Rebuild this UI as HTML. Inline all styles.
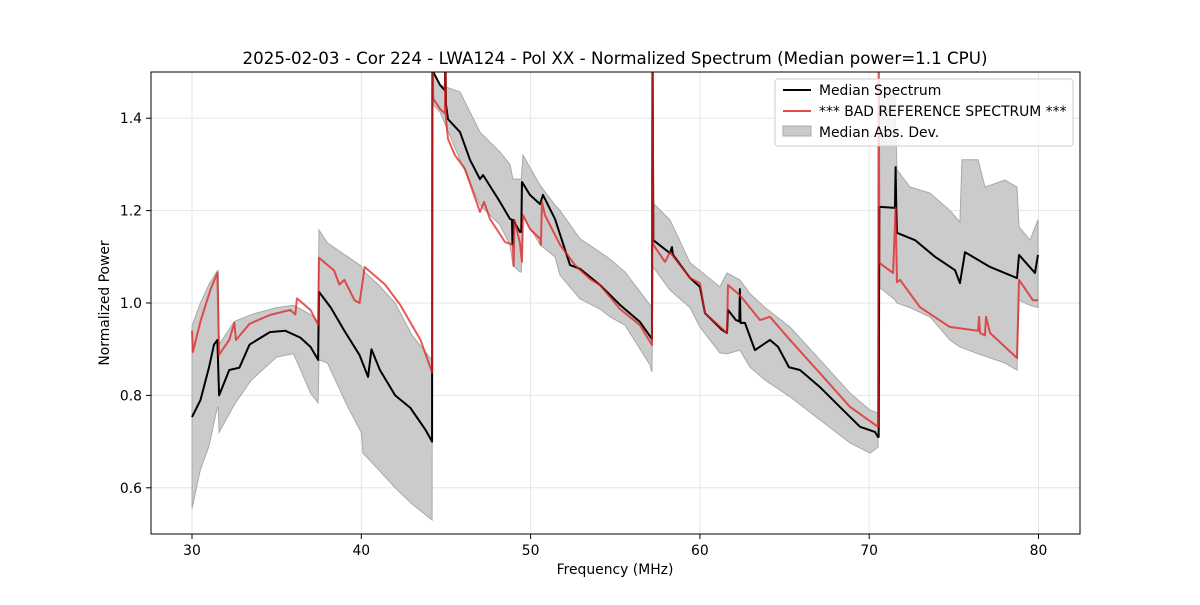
<!DOCTYPE html>
<html><head><meta charset="utf-8"><style>
body{margin:0;background:#fff;}
svg text{font-family:"DejaVu Sans","Liberation Sans",sans-serif;fill:#000;}
</style></head><body>
<svg id="chart" width="1200" height="600" viewBox="0 0 1200 600">
<defs><clipPath id="clip"><rect x="151" y="72" width="929" height="462"/></clipPath></defs>
<rect x="0" y="0" width="1200" height="600" fill="#fff"/>
<text x="615" y="64" font-size="16.7" text-anchor="middle">2025-02-03 - Cor 224 - LWA124 - Pol XX - Normalized Spectrum (Median power=1.1 CPU)</text>
<g id="grid"></g>
<g id="ticks"></g>
<g clip-path="url(#clip)" id="plot"></g>
<rect x="151" y="72" width="929" height="462" fill="none" stroke="#000" stroke-width="1"/>
<text x="615" y="574" font-size="13.9" text-anchor="middle">Frequency (MHz)</text>
<text x="109" y="303" font-size="13.9" text-anchor="middle" transform="rotate(-90 109 303)">Normalized Power</text>
<g>
<rect x="775" y="79" width="298" height="67" rx="3" fill="#fff" fill-opacity="0.8" stroke="#ccc"/>
<line x1="783" y1="90" x2="811" y2="90" stroke="#000" stroke-width="2"/>
<text x="819" y="95" font-size="13.9">Median Spectrum</text>
<line x1="783" y1="111" x2="811" y2="111" stroke="#e84a4a" stroke-width="2"/>
<text x="819" y="116" font-size="13.9">*** BAD REFERENCE SPECTRUM ***</text>
<rect x="783" y="126" width="28" height="10" fill="#cbcbcb" stroke="#aaa"/>
<text x="819" y="137" font-size="13.9">Median Abs. Dev.</text>
</g>
</svg>
<script>
const xTicks=[30,40,50,60,70,80];
const yTicks=[0.6,0.8,1.0,1.2,1.4];
const medF=[30,30.5,31,31.3,31.5,31.6,32.2,32.8,33.4,34.6,35.5,36.4,37,37.45,37.5,38.2,39,39.9,40.4,40.6,41.1,42,42.9,43.8,44.18,44.2,44.25,44.65,44.94,44.96,45.0,45.12,45.83,46.42,47.01,47.19,48.19,48.78,48.9,48.93,48.96,49.37,49.45,49.49,49.96,50.56,50.73,51.44,52.33,52.92,54.1,55.28,56.46,57.17,57.2,57.25,58.23,58.35,58.4,59.42,60.0,60.3,61.3,61.6,61.66,62.13,62.33,62.36,62.4,62.66,63.25,64.14,64.62,65.26,65.91,67.09,68.27,69.46,70.34,70.52,70.56,70.6,71.52,71.56,71.6,71.64,72.71,73.89,75.07,75.36,75.66,77.14,78.73,78.85,79.79,79.97];
const medV=[0.753,0.79,0.86,0.91,0.92,0.80,0.855,0.86,0.91,0.937,0.94,0.925,0.905,0.877,1.024,0.99,0.94,0.887,0.84,0.9,0.855,0.80,0.773,0.725,0.70,1.6,1.5,1.472,1.46,1.6,1.43,1.398,1.37,1.31,1.268,1.277,1.219,1.182,1.18,1.126,1.18,1.154,1.154,1.262,1.234,1.214,1.234,1.182,1.082,1.074,1.039,0.996,0.959,0.922,1.6,1.136,1.108,1.121,1.105,1.054,1.035,0.978,0.942,0.935,0.985,0.963,0.96,1.03,0.957,0.957,0.898,0.92,0.905,0.861,0.855,0.818,0.775,0.732,0.721,0.71,0.71,1.208,1.206,1.294,1.206,1.152,1.136,1.1,1.071,1.043,1.11,1.078,1.054,1.104,1.065,1.104];
const refF=[30,30.05,30.5,31.1,31.5,31.6,32.2,32.5,32.6,33.4,34.6,35.8,36.1,36.2,37,37.45,37.5,38.4,38.7,39,39.6,39.9,40.2,41.4,42.3,43.5,44.18,44.2,44.25,44.65,44.94,44.96,45.0,45.12,45.53,46.13,47.01,47.25,47.6,48.49,48.96,49.0,49.05,49.37,49.49,49.55,49.96,50.56,50.61,50.67,50.85,51.74,52.62,53.51,54.1,55.28,56.46,57.17,57.2,57.25,57.94,58.23,59.42,60.0,60.3,61.6,61.66,62.36,63.55,64.14,65.32,67.09,68.87,70.52,70.56,70.6,71.41,71.56,71.64,71.82,73.0,74.77,76.43,76.49,76.55,76.84,76.9,77.14,78.73,78.85,79.67,79.97];
const refV=[0.94,0.894,0.96,1.03,1.065,0.888,0.92,0.957,0.92,0.955,0.974,0.985,0.975,1.01,0.985,0.953,1.098,1.07,1.04,1.05,1.006,1.0,1.078,1.04,0.996,0.92,0.85,1.6,1.442,1.42,1.41,1.6,1.40,1.355,1.32,1.29,1.197,1.219,1.182,1.132,1.126,1.08,1.18,1.13,1.089,1.19,1.16,1.139,1.126,1.219,1.19,1.126,1.082,1.052,1.039,0.987,0.952,0.909,1.6,1.126,1.089,1.11,1.054,1.043,0.978,0.935,1.039,1.017,0.963,0.97,0.92,0.848,0.775,0.732,1.6,1.087,1.065,1.206,1.045,1.05,0.991,0.948,0.94,0.97,0.935,0.93,0.97,0.935,0.881,1.05,1.006,1.006];
const madF=[30,30.5,31,31.5,31.55,31.6,32.5,33.5,35,36,37,37.45,37.5,38,39.2,40,40.1,41,42,43,44.18,44.22,44.65,45.83,47.01,48.19,48.78,48.96,49.37,49.45,49.55,50.56,51.44,51.74,52.92,54.1,54.69,55.58,57.05,57.17,57.23,58.23,59.42,60.0,61.18,61.6,62.36,62.96,63.85,65.32,67.09,68.87,70.05,70.52,70.58,71.52,71.64,72.41,73.59,74.77,75.36,75.48,76.43,76.84,78.02,78.73,78.85,79.5,79.97];
const madLo=[0.555,0.64,0.69,0.775,0.775,0.72,0.78,0.833,0.883,0.89,0.805,0.784,0.877,0.87,0.775,0.72,0.675,0.64,0.6,0.565,0.53,1.43,1.413,1.31,1.212,1.169,1.126,1.082,1.067,1.067,1.19,1.126,1.10,1.06,1.009,0.987,0.97,0.952,0.866,0.851,1.078,1.028,0.99,0.948,0.892,0.89,0.898,0.861,0.833,0.797,0.747,0.697,0.675,0.688,1.035,1.007,1.0,0.99,0.97,0.92,0.905,0.903,0.89,0.885,0.87,0.855,1.006,0.995,0.99];
const madHi=[0.95,1.0,1.04,1.07,1.07,0.91,0.96,0.975,0.99,0.995,0.975,0.96,1.158,1.13,1.10,1.08,1.07,1.04,1.0,0.93,0.876,1.5,1.472,1.457,1.37,1.327,1.30,1.268,1.268,1.268,1.32,1.255,1.212,1.20,1.139,1.11,1.095,1.067,0.996,0.99,1.216,1.18,1.087,1.07,1.035,1.065,1.05,1.02,0.99,0.948,0.877,0.805,0.768,0.762,1.45,1.45,1.288,1.251,1.238,1.20,1.175,1.31,1.31,1.251,1.266,1.251,1.165,1.136,1.18];

const X=f=>192+(f-30)*16.93;
const Y=v=>534-(v-0.5)*462;
const NS='http://www.w3.org/2000/svg';
function mk(tag,attrs,parent){const e=document.createElementNS(NS,tag);for(const k in attrs)e.setAttribute(k,attrs[k]);parent.appendChild(e);return e;}
const grid=document.getElementById('grid'),ticks=document.getElementById('ticks'),plot=document.getElementById('plot');
xTicks.forEach(t=>{
  const g=mk('line',{x1:X(t),x2:X(t),y1:72,y2:534,stroke:'#e6e6e6','stroke-width':1},grid);
  
  
  const tk=mk('line',{x1:X(t),x2:X(t),y1:534,y2:539,stroke:'#000'},ticks);
  
  
  const tx=mk('text',{x:X(t),y:555,'font-size':13.9,'text-anchor':'middle'},ticks);
  tx.textContent=t;
  
  
});
yTicks.forEach(t=>{
  const g=mk('line',{x1:151,x2:1080,y1:Y(t),y2:Y(t),stroke:'#e6e6e6','stroke-width':1},grid);
  
  
  const tk=mk('line',{x1:146,x2:151,y1:Y(t),y2:Y(t),stroke:'#000'},ticks);
  
  
  const tx=mk('text',{x:142,y:Y(t)+5,'font-size':13.9,'text-anchor':'end'},ticks);
  tx.textContent=t.toFixed(1);
  
  
});
let d='M'+madF.map((f,i)=>X(f)+','+Y(madHi[i])).join('L');
for(let i=madF.length-1;i>=0;i--)d+='L'+X(madF[i])+','+Y(madLo[i]);
const band=mk('path',{d:d+'Z',fill:'#cbcbcb',stroke:'#a8a8a8','stroke-width':1},plot);


const med=mk('path',{d:'M'+medF.map((f,i)=>X(f)+','+Y(medV[i])).join('L'),fill:'none',stroke:'#000','stroke-width':2,'stroke-linejoin':'round'},plot);


const ref=mk('path',{d:'M'+refF.map((f,i)=>X(f)+','+Y(refV[i])).join('L'),fill:'none',stroke:'#e02020','stroke-opacity':0.75,'stroke-width':2,'stroke-linejoin':'round'},plot);


</script>
</body></html>
